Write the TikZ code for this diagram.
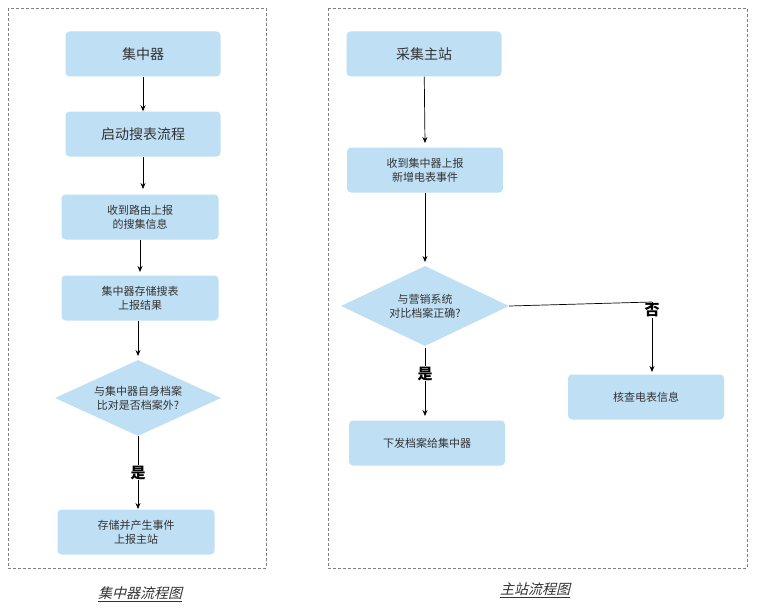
\documentclass[tikz,border=0pt]{standalone}
\usepackage{fontspec}
\setmainfont{Noto Sans CJK SC}
\newfontfamily\cjkit[FakeSlant=0.25]{Noto Sans CJK SC}
\usetikzlibrary{shapes.geometric,arrows.meta}
\definecolor{bx}{HTML}{BFDFF5}
\definecolor{tx}{HTML}{333333}
\begin{document}
\begin{tikzpicture}[x=1pt,y=-1pt,
  box/.style={fill=bx,rounded corners=4pt,minimum width=155pt,minimum height=45pt,align=center,text=tx,font=\fontsize{11}{14}\selectfont,inner sep=0pt},
  big/.style={box,font=\fontsize{14}{17}\selectfont},
  dia/.style={diamond,fill=bx,aspect=2.15,align=center,text=tx,font=\fontsize{11}{14}\selectfont,inner sep=0pt},
  fr/.style={draw=gray,densely dashed,line width=0.5pt},
  ar/.style={-{Stealth[length=6pt,width=5pt]},line width=0.7pt},
  lab/.style={fill=white,font=\bfseries\fontsize{15}{15}\selectfont,inner sep=0.5pt,text=black},
  capt/.style={font=\cjkit\fontsize{14}{16}\selectfont,text=tx}]
\useasboundingbox (0,0) rectangle (758,610);
\draw[fr] (8,8) rectangle (266,568);
\draw[fr] (328,8) rectangle (747,568);
% left
\node[big] (a1) at (143,54) {集中器};
\node[big] (a2) at (143,134) {启动搜表流程};
\node[box,minimum width=157pt] (a3) at (140,217) {收到路由上报\\的搜集信息};
\node[box,minimum width=157pt] (a4) at (140,298) {集中器存储搜表\\上报结果};
\node[dia,minimum width=166pt,minimum height=76pt] (a5) at (138,398) {与集中器自身档案\\比对是否档案外?};
\node[box,minimum width=157pt] (a6) at (136,532) {存储并产生事件\\上报主站};
\draw[ar] (a1) -- (a2);
\draw[ar] (143,157) -- (143,189);
\draw[ar] (140,240) -- (140,272);
\draw[ar] (138,321) -- (138,356);
\draw[ar] (a5) -- node[lab] (l1) {是} (138,509);
\node[capt] (c1) at (140,594) {\underline{集中器流程图}};
% right
\node[big] (b1) at (424,54) {采集主站};
\node[box,minimum width=156pt] (b2) at (425,170) {收到集中器上报\\新增电表事件};
\node[dia,minimum width=168pt,minimum height=80pt] (b3) at (425,306) {与营销系统\\对比档案正确?};
\node[box,minimum width=156pt] (b4) at (427,443) {下发档案给集中器};
\node[box,minimum width=156pt] (b5) at (646,397) {核查电表信息};
\draw[ar] (b1) -- (425,143);
\draw[ar] (b2) -- (425,262);
\draw[ar] (425,348) -- node[lab,pos=0.38] (l2) {是} (425,416);
\coordinate (k) at (652,302);
\draw[line width=0.7pt] (b3.east) -- (k);
\draw[ar] (k) -- node[lab,pos=0.12] (l3) {否} (652,372);
\node[capt] (c2) at (535,590) {\underline{主站流程图}};
\end{tikzpicture}
\end{document}
